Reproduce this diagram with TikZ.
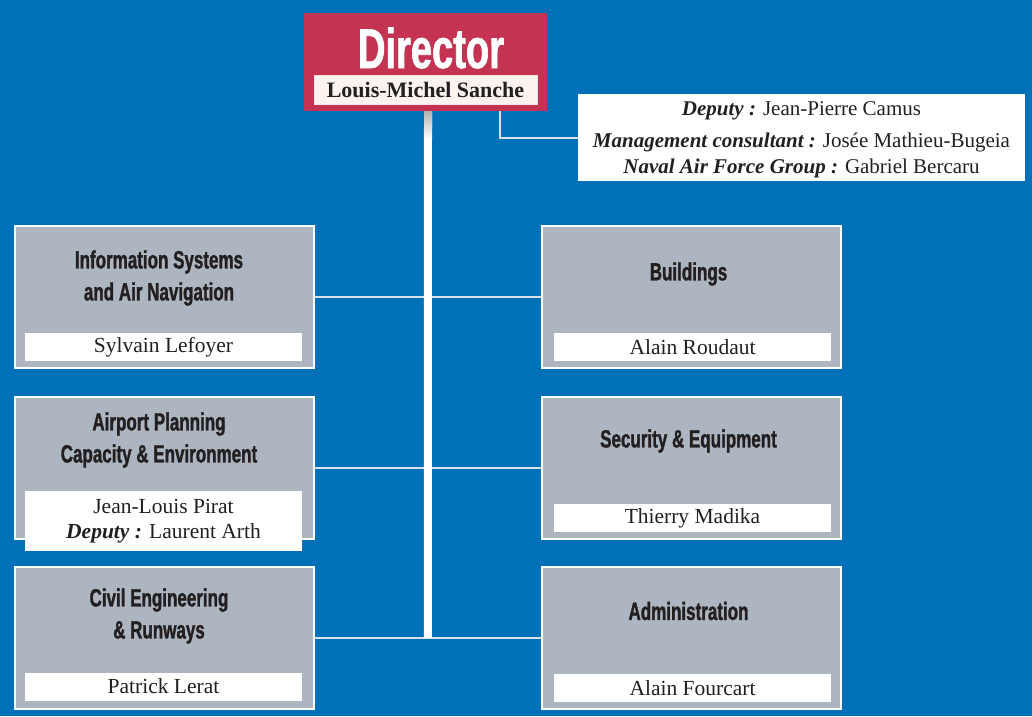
\documentclass[tikz,border=0pt]{standalone}
\usepackage{fontspec}
\setmainfont{Liberation Serif}
\newfontfamily\headfont{Liberation Sans}[FakeStretch=0.68,BoldFeatures={FakeBold=1.2}]
\usetikzlibrary{calc}
\definecolor{bgblue}{RGB}{0,112,184}
\definecolor{dirred}{RGB}{196,52,82}
\definecolor{boxgray}{RGB}{172,181,192}
\definecolor{inkgray}{RGB}{35,31,32}
\definecolor{linkgray}{RGB}{215,225,235}
\definecolor{glow}{RGB}{250,243,238}

\begin{document}
\begin{tikzpicture}[x=1pt,y=-1pt,
    unit/.style={draw=white,line width=2pt,fill=boxgray,minimum width=299pt,minimum height=142pt,inner sep=0pt},
    head/.style={font=\headfont\bfseries\fontsize{25}{32}\selectfont,text=inkgray,align=center,inner sep=0pt},
    namebox/.style={fill=white,minimum width=277pt,minimum height=28pt,inner sep=0pt,font=\fontsize{21.5}{25}\selectfont,text=inkgray,align=center},
    trunk/.style={white,line width=8pt},
    link/.style={draw=linkgray,line width=2pt}]
    \useasboundingbox (0,0) rectangle (1032,716);
    \fill[bgblue] (0,0) rectangle (1032,716);

    \node[fill=dirred,minimum width=243pt,minimum height=98pt,inner sep=0pt] (dir) at (425.5,62) {};
    \node[font=\headfont\bfseries\fontsize{56}{60}\selectfont,text=white,inner sep=0pt] (dirT) at (431,48) {Director};
    \node[fill=glow,draw=white!85!dirred,line width=1pt,minimum width=223pt,minimum height=29pt,inner sep=0pt,
        font=\bfseries\fontsize{22}{24}\selectfont,text=inkgray] (dirN) at (425.5,89.5) {Louis-Michel Sanche};

    \node[fill=white,minimum width=447pt,minimum height=87pt,inner sep=0pt,align=center,text=inkgray,
        font=\fontsize{21}{26}\selectfont] (dep) at (801.5,137.5)
        {\rule{0pt}{18pt}\textbf{\textit{Deputy :}} Jean-Pierre Camus\\[6pt]
         \textbf{\textit{Management consultant :}} Josée Mathieu-Bugeia\\
         \textbf{\textit{Naval Air Force Group :}} Gabriel Bercaru};

    \node[unit] (info) at (164.5,297) {};
    \node[unit] (plan) at (164.5,467.5) {};
    \node[unit] (civ) at (164.5,638) {};
    \node[unit] (bldg) at (691,297) {};
    \node[unit] (sec) at (691,467.5) {};
    \node[unit] (adm) at (691,638) {};

    \node[head] (infoT) at (159,278) {Information Systems\\and Air Navigation};
    \node[head] (planT) at (159,440) {Airport Planning\\Capacity \& Environment};
    \node[head] (civT) at (159,616) {Civil Engineering\\\& Runways};
    \node[head] (bldgT) at (688.5,274) {Buildings};
    \node[head] (secT) at (688.5,441) {Security \& Equipment};
    \node[head] (admT) at (688.5,611) {Administration};

    \node[namebox] (infoN) at (163.5,347) {Sylvain Lefoyer};
    \node[namebox,minimum height=60pt] (planN) at (163.5,521) {Jean-Louis Pirat\\\textbf{\textit{Deputy :}} Laurent Arth};
    \node[namebox] (civN) at (163.5,686.5) {Patrick Lerat};
    \node[namebox] (bldgN) at (692.5,347) {Alain Roudaut};
    \node[namebox] (secN) at (692.5,518) {Thierry Madika};
    \node[namebox] (admN) at (692.5,688) {Alain Fourcart};

    \coordinate (hub) at ($(civ.east)!0.5!(adm.west)$);
    \draw[link] (info.east) -- (bldg.west);
    \draw[link] (plan.east) -- (sec.west);
    \draw[link] (civ.east) -- (adm.west);
    \draw[trunk] ([xshift=2.5pt]dir.south) -- (hub);
    \shade[top color=gray!60,bottom color=white] ([xshift=-1.5pt]dir.south) rectangle ++(8,28);
    \draw[link] ([xshift=-47pt]dir.south east) |- (dep.west);
\end{tikzpicture}
\end{document}
